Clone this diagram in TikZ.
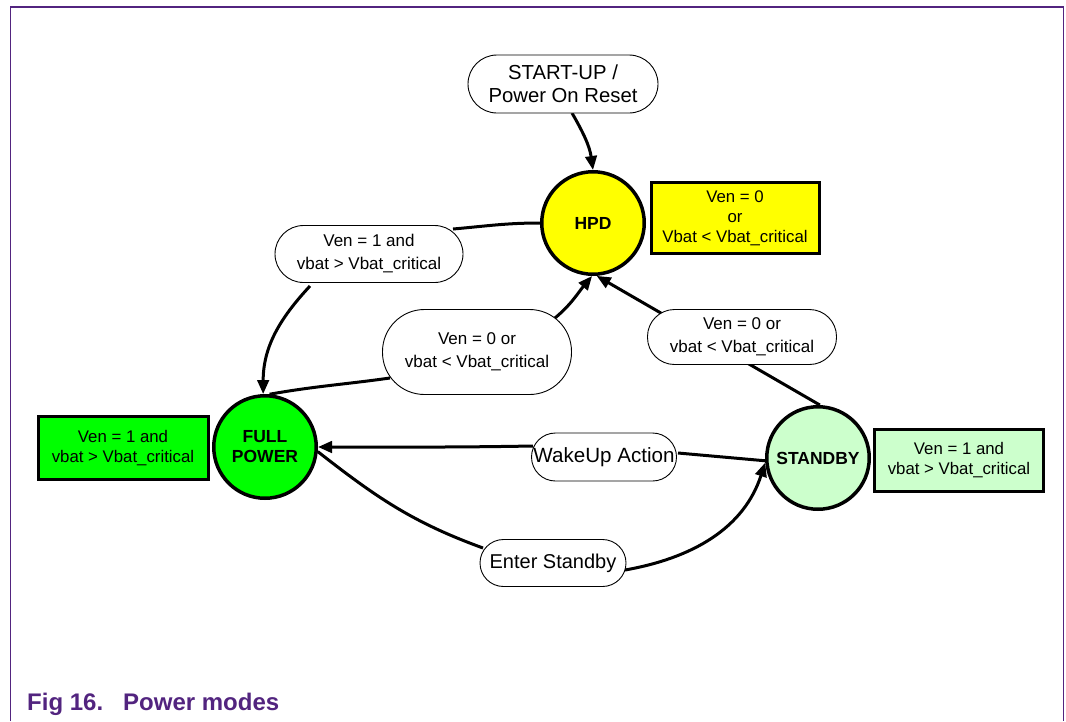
\documentclass[tikz,border=0pt]{standalone}
\usepackage{fontspec}
\setmainfont{Liberation Sans}
\usetikzlibrary{arrows.meta,backgrounds}

\definecolor{nxppurple}{RGB}{82,36,127}
\definecolor{hpdyellow}{RGB}{255,255,0}
\definecolor{fullgreen}{RGB}{0,255,0}
\definecolor{standbygreen}{RGB}{204,255,204}

\begin{document}
\begin{tikzpicture}[x=1pt,y=1pt,
  state/.style={circle, draw, line width=3.5pt, minimum size=102.5pt, inner sep=0pt,
    align=center, font=\bfseries\fontsize{17.5}{20}\selectfont},
  cond/.style={rectangle, draw, line width=3pt, inner sep=0pt, align=center,
    font=\fontsize{16.8}{20}\selectfont},
  guard/.style={rectangle, draw, line width=0.9pt, fill=white, inner sep=0pt,
    align=center, font=\fontsize{17}{23}\selectfont},
  conn/.style={line width=3pt, -{Triangle[length=14pt,width=11.5pt]}},
  wire/.style={line width=3pt},
]
\useasboundingbox (0,0) rectangle (1066,-721);

% page frame
\draw[nxppurple, line width=1.2pt] (10.5,-721) -- (10.5,-7) -- (1063.5,-7) -- (1063.5,-721);

% states
\node[state, fill=hpdyellow] (hpd) at (593,-223) {HPD};
\node[state, fill=fullgreen] (fp) at (265,-447) {FULL\\POWER};
\node[state, fill=standbygreen] (sb) at (818,-458) {STANDBY};

% state conditions
\node[cond, fill=hpdyellow, minimum width=168pt, minimum height=71pt] (hpdc) at (735,-218)
  {Ven = 0\\or\\Vbat < Vbat\_critical};
\node[cond, fill=fullgreen, minimum width=170pt, minimum height=63pt] (fpc) at (123,-448)
  {Ven = 1 and\\vbat > Vbat\_critical};
\node[cond, fill=standbygreen, minimum width=169pt, minimum height=62pt] (sbc) at (959,-460)
  {Ven = 1 and\\vbat > Vbat\_critical};

% entry point
\node[guard, rounded corners=29pt, minimum width=190pt, minimum height=58pt,
  font=\fontsize{20.3}{23}\selectfont] (start) at (563,-84) {START-UP /\\Power On Reset};

% transition guards
\node[guard, rounded corners=28.5pt, minimum width=188pt, minimum height=57pt] (l1) at (369,-254)
  {Ven = 1 and\\vbat > Vbat\_critical};
\node[guard, rounded corners=42pt, minimum width=189pt, minimum height=85pt] (l2) at (477,-352)
  {Ven = 0 or\\vbat < Vbat\_critical};
\node[guard, rounded corners=27pt, minimum width=189pt, minimum height=55pt] (l3) at (742,-337)
  {Ven = 0 or\\vbat < Vbat\_critical};
\node[guard, rounded corners=24pt, minimum width=145pt, minimum height=48pt,
  font=\fontsize{20.6}{23}\selectfont] (wake) at (604,-457) {WakeUp Action};
\node[guard, rounded corners=23.5pt, minimum width=146pt, minimum height=47pt,
  font=\fontsize{20}{23}\selectfont] (enter) at (553,-563) {Enter Standby};

% transitions
\begin{pgfonlayer}{background}
  \draw[conn] ([shift={(9,-29)}]start.center) to[out=-60,in=98] (hpd.north);
  % HPD -> FULL POWER
  \draw[wire] (hpd.west) to[out=180,in=5] ([shift={(84,25)}]l1.center);
  \draw[conn] ([shift={(-59,-32)}]l1.center) to[out=-133,in=90] (fp.92);
  % FULL POWER -> HPD
  \draw[wire] (fp.85) to[out=10,in=188] ([shift={(-87,-26)}]l2.center);
  \draw[conn] ([shift={(78,34)}]l2.center) to[out=40,in=-130] (hpd.-91);
  % STANDBY -> HPD
  \draw[conn] (sb.88) -- (hpd.-86);
  % STANDBY -> FULL POWER
  \draw[wire] (sb.183) -- ([shift={(74,4)}]wake.center);
  \draw[conn] ([shift={(-71,11)}]wake.center) to[out=181,in=0] (fp.east);
  % FULL POWER -> STANDBY
  \draw[wire] (fp.-5) to[out=-38,in=160] ([shift={(-70,15)}]enter.center);
  \draw[conn] ([shift={(72,-7)}]enter.center) to[out=10,in=-108] (sb.185);
\end{pgfonlayer}

% caption
\node[anchor=base west, inner sep=0pt, text=nxppurple, font=\bfseries\fontsize{24}{28}\selectfont]
  (cap) at (27,-710) {Fig 16.\hspace{20pt}Power modes};
\end{tikzpicture}
\end{document}
